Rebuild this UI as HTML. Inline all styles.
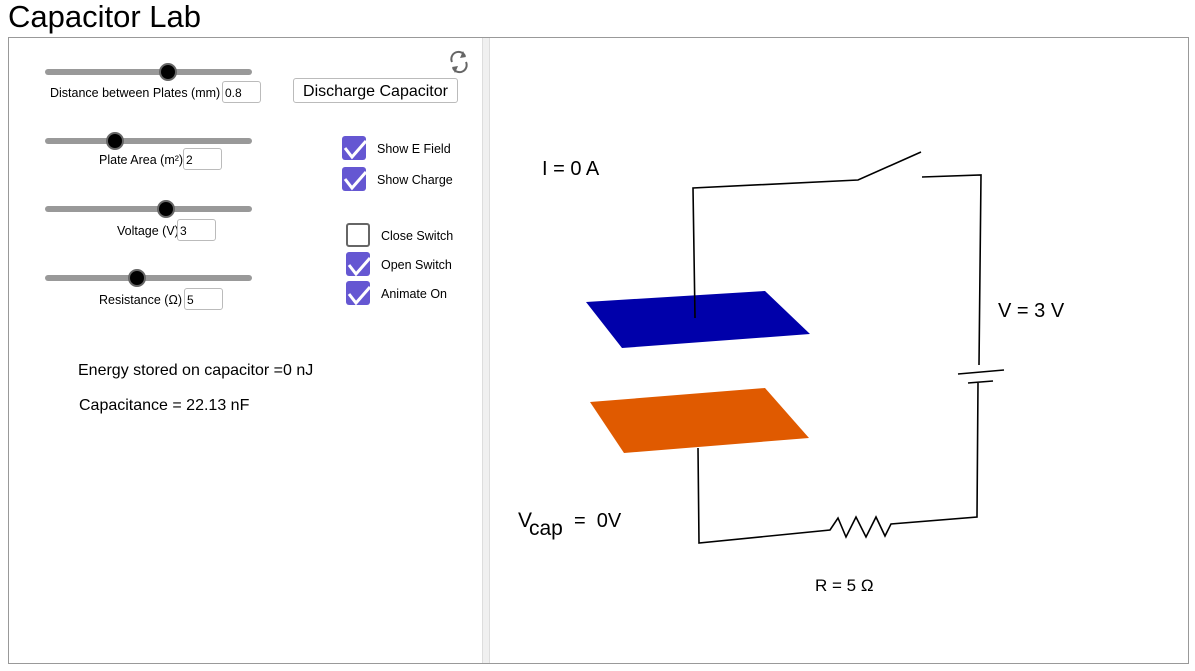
<!DOCTYPE html>
<html><head><meta charset="utf-8"><style>
body{margin:0;width:1195px;height:671px;background:#fff;font-family:"Liberation Sans",Arial,sans-serif;position:relative;overflow:hidden}
.a{position:absolute;white-space:nowrap}
.lbl{font-size:12.5px;color:#000}
.inp{position:absolute;height:22px;border:1px solid #bbb;border-radius:3px;font-size:12px;line-height:22px;padding-left:2px;box-sizing:border-box;background:#fff}
.cb{position:absolute;width:24px;height:24px;border-radius:3px;background:#6557d2}
.cb.off{background:#fff;border:2px solid #666;box-sizing:border-box}
</style></head><body>
<div class="a" style="left:8px;top:-1px;font-size:31px;">Capacitor Lab</div>
<div class="a" style="left:8px;top:37px;width:1179px;height:625px;border:1px solid #999;"></div>
<div class="a" style="left:482px;top:38px;width:6px;height:625px;background:#f0f0f0;border-left:1px solid #ddd;border-right:1px solid #ddd"></div>
<svg class="a" style="left:0;top:0" width="1195" height="671">
 <g stroke="#999" stroke-width="6" stroke-linecap="round">
  <line x1="48" y1="72" x2="249" y2="72"/><line x1="48" y1="141" x2="249" y2="141"/>
  <line x1="48" y1="209" x2="249" y2="209"/><line x1="48" y1="278" x2="249" y2="278"/>
 </g>
 <g fill="#000" stroke="#666" stroke-width="2">
  <circle cx="168" cy="72" r="8"/><circle cx="115" cy="141" r="8"/>
  <circle cx="166" cy="209" r="8"/><circle cx="137" cy="278" r="8"/>
 </g>
 <g fill="none" stroke="#666" stroke-width="2">
  <path d="M452 62 A7 7 0 0 1 465 56"/><path d="M466 62 A7 7 0 0 1 453 68"/>
 </g>
 <polygon points="463,51 466,57 460,58" fill="#666"/><polygon points="455,73 452,67 458,66" fill="#666"/>
 <g stroke="#fff" stroke-width="3" fill="none">
  <polyline points="345,148 352,157 366,141"/><polyline points="345,179 352,188 366,172"/>
  <polyline points="349,265 356,274 370,258"/><polyline points="349,294 356,303 370,287"/>
 </g>
 <polygon points="586,302 765,291 810,334 622,348" fill="#0000aa"/>
 <polygon points="590,402 765,388 809,438 624,453" fill="#e05a00"/>
 <g stroke="#000" stroke-width="1.6" fill="none">
  <polyline points="695,318 693,188 858,180 921,152"/>
  <polyline points="922,177 981,175 979,365"/>
  <line x1="958" y1="374" x2="1004" y2="370"/><line x1="968" y1="383" x2="993" y2="381"/>
  <polyline points="978,383 977,517 891,524 885,536 876,517 866,537 856,517 846,537 838,518 830,530 699,543 698,448"/>
 </g>
 <text x="542" y="175" font-size="20">I = 0 A</text>
 <text x="998" y="317" font-size="20">V = 3 V</text>
 <text x="518" y="527" font-size="21">V</text><text x="529" y="535" font-size="21">cap</text>
 <text x="574" y="527" font-size="20">=&#160; 0V</text>
 <text x="815" y="591" font-size="17">R = 5 Ω</text>
</svg>
<div class="a lbl" style="left:50px;top:86px">Distance between Plates (mm)</div><div class="inp" style="left:222px;top:81px;width:39px">0.8</div>
<div class="a lbl" style="left:99px;top:153px">Plate Area (m²)</div><div class="inp" style="left:183px;top:148px;width:39px">2</div>
<div class="a lbl" style="left:117px;top:224px">Voltage (V)</div><div class="inp" style="left:177px;top:219px;width:39px">3</div>
<div class="a lbl" style="left:99px;top:293px">Resistance (Ω)</div><div class="inp" style="left:184px;top:288px;width:39px">5</div>
<div class="a" style="left:293px;top:78px;width:165px;height:25px;border:1px solid #bbb;border-radius:3px;font-size:16px;text-align:center;line-height:25px;box-sizing:border-box">Discharge Capacitor</div>
<div class="cb" style="left:342px;top:136px;z-index:-1"></div><div class="a lbl" style="left:377px;top:142px">Show E Field</div>
<div class="cb" style="left:342px;top:167px;z-index:-1"></div><div class="a lbl" style="left:377px;top:173px">Show Charge</div>
<div class="cb off" style="left:346px;top:223px"></div><div class="a lbl" style="left:381px;top:229px">Close Switch</div>
<div class="cb" style="left:346px;top:252px;z-index:-1"></div><div class="a lbl" style="left:381px;top:258px">Open Switch</div>
<div class="cb" style="left:346px;top:281px;z-index:-1"></div><div class="a lbl" style="left:381px;top:287px">Animate On</div>
<div class="a" style="left:78px;top:362px;font-size:16px">Energy stored on capacitor =0 nJ</div>
<div class="a" style="left:79px;top:397px;font-size:16px">Capacitance = 22.13 nF</div>
</body></html>
